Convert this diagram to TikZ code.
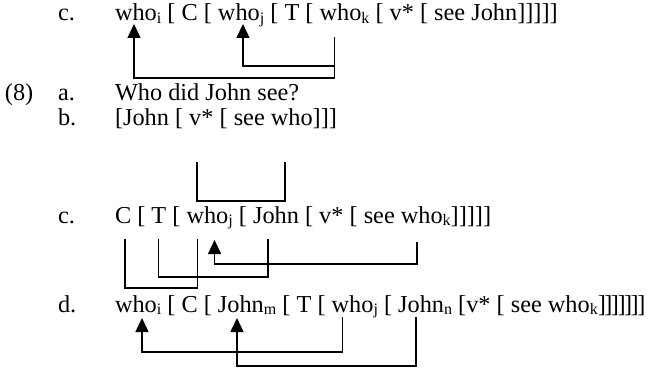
\documentclass[tikz,border=0pt]{standalone}
\usepackage{fontspec}
\setmainfont{Liberation Serif}
\usetikzlibrary{calc,arrows.meta}
\newcommand\mysub[1]{\raisebox{-0.12em}{\fontsize{16}{16}\selectfont #1}}
\newcommand\wsp{\ \null}
\newcommand\tb{]\kern-1.5pt}
\begin{document}
\begin{tikzpicture}[x=1pt,y=-1pt,
  w/.style={inner sep=0pt,outer sep=0pt,anchor=base west,font=\fontsize{24.3}{28}\selectfont},
  link/.style={line width=1.5pt},
  mv/.style={line width=1.5pt,-{Triangle[length=14pt,width=13pt]}}]
\useasboundingbox (0,0) rectangle (648,369);

% row c (top)
\node[w] (r1lab) at (58,21) {c.};
\node[w] (r1wi) at (115,21) {who\mysub{i}};
\node[w] (r1s1) at (r1wi.base east) {\ [ C [\wsp};
\node[w] (r1wj) at (r1s1.base east) {who\mysub{j}};
\node[w] (r1s2) at (r1wj.base east) {\ [ T [\wsp};
\node[w] (r1wk) at (r1s2.base east) {who\mysub{k}};
\node[w] (r1s3) at (r1wk.base east) {\ [ v* [ see John]]]]]};
\draw[mv] ($(r1wk.base west)+(15,16)$) |- ($(r1wi.base west)+(19,57)$) -- ($(r1wi.base west)+(19,3)$);
\draw[mv] ($(r1wk.base west)+(15,45)$) -| ($(r1wj.base west)+(25,3)$);

% (8) a.
\node[w] (n8) at (5,100) {(8)};
\node[w] (alab) at (58,100) {a.};
\node[w] (atext) at (115,100) {Who did John see?};

% b.
\node[w] (blab) at (58,125) {b.};
\node[w] (b1) at (115,125) {[John [\wsp};
\node[w] (bv) at (b1.base east) {v*};
\node[w] (b2) at (bv.base east) {\ [ see\wsp};
\node[w] (bw) at (b2.base east) {who};
\node[w] (b3) at (bw.base east) {]]]};
\draw[link] ($(bv.base west)+(8,37)$) -- ($(bv.base west)+(8,76)$) -| ($(bw.base west)+(14,37)$);

% c.
\node[w] (clab) at (58,223) {c.};
\node[w] (c1) at (115,223) {C};
\node[w] (c2) at (c1.base east) {\ [\wsp};
\node[w] (c3) at (c2.base east) {T};
\node[w] (c4) at (c3.base east) {\ [\wsp};
\node[w] (cwj) at (c4.base east) {who\mysub{j}};
\node[w] (c5) at (cwj.base east) {\ [\wsp};
\node[w] (cjohn) at (c5.base east) {John};
\node[w] (c6) at (cjohn.base east) {\ [ v* [ see\wsp};
\node[w] (cwk) at (c6.base east) {who\mysub{k}};
\node[w] (c7) at (cwk.base east) {]]]]]};
\draw[link] ($(c1.base west)+(10,16)$) |- ($(cwj.base west)+(11,65)$) -- ($(cwj.base west)+(11,16)$);
\draw[link] ($(c3.base west)+(7,16)$) |- ($(cjohn.base west)+(15,54)$) -- ($(cjohn.base west)+(15,16)$);
\draw[mv] ($(cwk.base west)+(16,19)$) |- ($(cwj.base west)+(28,41)$) -- ($(cwj.base west)+(28,17)$);

% d.
\node[w] (dlab) at (58,312) {d.};
\node[w] (dwi) at (115,312) {who\mysub{i}};
\node[w] (ds1) at (dwi.base east) {\ [ C [\wsp};
\node[w] (djm) at (ds1.base east) {John\mysub{m}};
\node[w] (ds2) at (djm.base east) {\ [ T [\wsp};
\node[w] (dwj) at (ds2.base east) {who\mysub{j}};
\node[w] (ds3) at (dwj.base east) {\ [\wsp};
\node[w] (djn) at (ds3.base east) {John\mysub{n}};
\node[w] (ds4) at (djn.base east) {\ [v* [ see who\mysub{k}\tb\tb\tb\tb\tb\tb]};
\draw[mv] ($(dwj.base west)+(11,5)$) |- ($(dwi.base west)+(27,40)$) -- ($(dwi.base west)+(27,6)$);
\draw[mv] ($(djn.base west)+(18,5)$) |- ($(djm.base west)+(19,54)$) -- ($(djm.base west)+(19,6)$);
\end{tikzpicture}
\end{document}
